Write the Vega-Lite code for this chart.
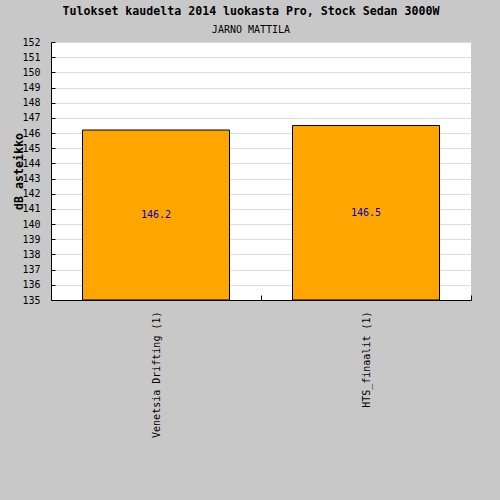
{
  "$schema": "https://vega.github.io/schema/vega-lite/v6.json",
  "width": 420,
  "height": 258,
  "autosize": {"type": "none"},
  "padding": {"left": 51, "top": 42, "right": 29, "bottom": 200},
  "background": "#c8c8c8",
  "title": {
    "text": "Tulokset kaudelta 2014 luokasta Pro, Stock Sedan 3000W",
    "subtitle": "JARNO MATTILA",
    "anchor": "middle",
    "dx": -10,
    "offset": 2,
    "font": "DejaVu Sans Mono",
    "fontSize": 11.6,
    "fontWeight": "bold",
    "color": "#000000",
    "subtitleFont": "DejaVu Sans Mono",
    "subtitleFontSize": 10,
    "subtitleColor": "#000000",
    "subtitlePadding": 7
  },
  "config": {
    "view": {"fill": "#ffffff", "stroke": null},
    "axis": {
      "domainColor": "#000000",
      "tickColor": "#000000",
      "labelColor": "#000000",
      "titleColor": "#000000",
      "labelFont": "DejaVu Sans Mono",
      "labelFontSize": 10,
      "titleFont": "DejaVu Sans Mono",
      "titleFontSize": 11.6,
      "titleFontWeight": "bold"
    }
  },
  "data": {
    "values": [
      {"kilpailu": "Venetsia Drifting (1)", "tulos": 146.2},
      {"kilpailu": "HTS_finaalit (1)", "tulos": 146.5}
    ]
  },
  "transform": [{"calculate": "(datum.tulos + 135) / 2", "as": "keski"}],
  "layer": [
    {
      "mark": {"type": "bar", "fill": "#ffa500", "stroke": "#000000", "strokeWidth": 1},
      "encoding": {
        "x": {
          "field": "kilpailu",
          "type": "nominal",
          "sort": null,
          "scale": {"paddingInner": 0.3, "paddingOuter": 0.15},
          "axis": {
            "title": null,
            "labelAngle": -90,
            "labelAlign": "right",
            "labelBaseline": "middle",
            "labelPadding": 16,
            "tickOffset": 105,
            "labelOffset": -105,
            "tickSize": -5,
            "grid": false
          }
        },
        "y": {
          "field": "tulos",
          "type": "quantitative",
          "scale": {"domain": [135, 152], "zero": false, "nice": false},
          "axis": {
            "title": "dB asteikko",
            "values": [135,136,137,138,139,140,141,142,143,144,145,146,147,148,149,150,151,152],
            "labelOverlap": false,
            "tickSize": -4,
            "labelPadding": 15,
            "titleX": -32,
            "titleY": 129,
            "titleAlign": "center",
            "titleBaseline": "middle",
            "titleAngle": -90,
            "gridColor": "#dcdcdc",
            "gridWidth": 1
          }
        },
        "y2": {"datum": 135}
      }
    },
    {
      "mark": {"type": "text", "font": "DejaVu Sans Mono", "fontSize": 10, "fill": "#0000c8", "baseline": "middle"},
      "encoding": {
        "x": {
          "field": "kilpailu",
          "type": "nominal",
          "sort": null,
          "axis": {
            "title": null,
            "labelAngle": -90,
            "labelAlign": "right",
            "labelBaseline": "middle",
            "labelPadding": 16,
            "tickOffset": 105,
            "labelOffset": -105,
            "tickSize": -5,
            "grid": false
          }
        },
        "y": {
          "field": "keski",
          "type": "quantitative",
          "axis": {
            "title": "dB asteikko",
            "values": [135,136,137,138,139,140,141,142,143,144,145,146,147,148,149,150,151,152],
            "labelOverlap": false,
            "tickSize": -4,
            "labelPadding": 15,
            "titleX": -32,
            "titleY": 129,
            "titleAlign": "center",
            "titleBaseline": "middle",
            "titleAngle": -90,
            "gridColor": "#dcdcdc",
            "gridWidth": 1
          }
        },
        "text": {"field": "tulos", "type": "quantitative", "format": ".1f"}
      }
    }
  ]
}
